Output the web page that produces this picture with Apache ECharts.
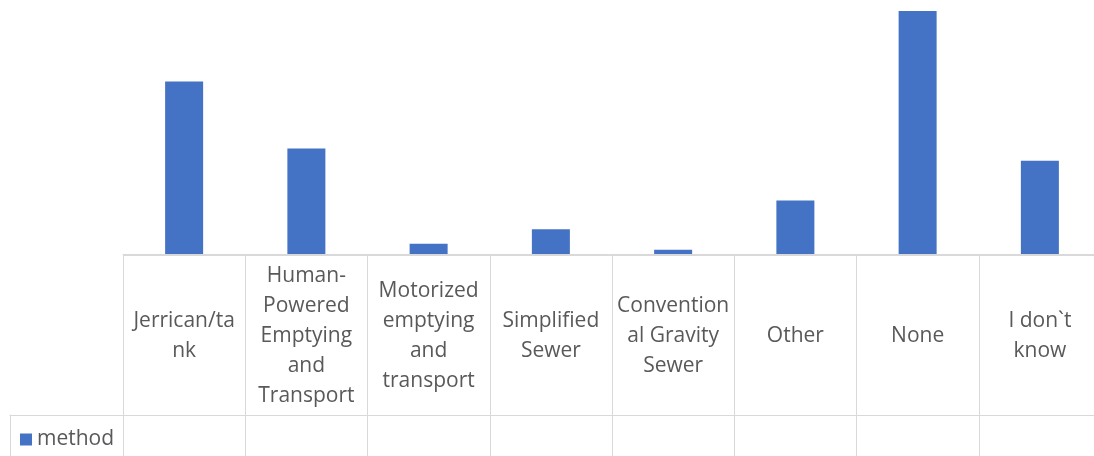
<!DOCTYPE html>
<html>
<head>
<meta charset="utf-8">
<script src="https://cdn.jsdelivr.net/npm/echarts@6/dist/echarts.min.js"></script>
<style>
  html, body { margin: 0; padding: 0; background: #ffffff; }
  #chart { width: 1094px; height: 456px; }
</style>
</head>
<body>
<div id="chart"></div>
<script>
// Sanitation / emptying method responses
const categories = [
  'Jerrican/tank',
  'Human-Powered Emptying and Transport',
  'Motorized emptying and transport',
  'Simplified Sewer',
  'Conventional Gravity Sewer',
  'Other',
  'None',
  'I don`t know'
];
// Wrapped text shown in the data-table header cells
const tickLabels = [
  'Jerrican/ta\nnk',
  'Human-\nPowered\nEmptying\nand\nTransport',
  'Motorized\nemptying\nand\ntransport',
  'Simplified\nSewer',
  'Convention\nal Gravity\nSewer',
  'Other',
  'None',
  'I don`t\nknow'
];
const seriesName = 'method';
const methodValues = [35.5, 21.7, 2.1, 5.1, 0.9, 11, 50, 19.2];

const FONT = '"Open Sans", "Noto Sans", sans-serif';
const TEXT = '#595959';
const BORDER = '#d9d9d9';

const chart = echarts.init(document.getElementById('chart'), null, { renderer: 'canvas' });

chart.setOption({
  animation: false,
  backgroundColor: '#ffffff',
  textStyle: { fontFamily: FONT },
  legend: {
    data: [seriesName],
    left: 15,
    top: 424,
    icon: 'rect',
    itemWidth: 12,
    itemHeight: 12,
    textStyle: { fontSize: 21, color: TEXT, fontFamily: FONT }
  },
  grid: [
    // plot area
    { left: 123, right: -7, top: 11, height: 243, outerBoundsMode: 'none' },
    // data table body (category columns)
    { left: 123, right: -7, top: 255, bottom: -20, outerBoundsMode: 'none' },
    // legend cell of the data table
    { left: 10, width: 113, top: 415, bottom: -20, outerBoundsMode: 'none' }
  ],
  xAxis: [
    {
      gridIndex: 0,
      type: 'category',
      data: categories,
      axisLine: { show: true, lineStyle: { color: BORDER, width: 1 } },
      axisTick: { show: false },
      splitLine: { show: false },
      axisLabel: {
        interval: 0,
        formatter: (v, i) => tickLabels[i],
        margin: 82,
        verticalAlign: 'middle',
        align: 'center',
        lineHeight: 30,
        fontSize: 21,
        color: TEXT,
        fontFamily: FONT
      }
    },
    {
      gridIndex: 1,
      type: 'category',
      data: categories,
      boundaryGap: true,
      axisLine: { show: false },
      axisTick: { show: false },
      axisLabel: { show: false },
      splitLine: { show: true, interval: 0, lineStyle: { color: BORDER, width: 1 } }
    },
    {
      gridIndex: 2,
      type: 'value',
      min: 0,
      max: 1,
      position: 'top',
      axisLine: { show: true, onZero: false, lineStyle: { color: BORDER, width: 1 } },
      axisTick: { show: false },
      axisLabel: { show: false },
      splitLine: { show: false }
    }
  ],
  yAxis: [
    {
      gridIndex: 0,
      type: 'value',
      min: 0,
      max: 50,
      show: false
    },
    {
      gridIndex: 1,
      type: 'value',
      inverse: true,
      min: 0,
      max: 221,
      interval: 160,
      axisLine: { show: false },
      axisTick: { show: false },
      axisLabel: { show: false },
      splitLine: { show: true, lineStyle: { color: BORDER, width: 1 } }
    },
    {
      gridIndex: 2,
      type: 'value',
      min: 0,
      max: 1,
      axisLine: { show: true, onZero: false, lineStyle: { color: BORDER, width: 1 } },
      axisTick: { show: false },
      axisLabel: { show: false },
      splitLine: { show: false }
    }
  ],
  series: [
    {
      name: seriesName,
      type: 'bar',
      xAxisIndex: 0,
      yAxisIndex: 0,
      barWidth: 38,
      itemStyle: { color: '#4472c4' },
      data: methodValues,
      silent: true
    }
  ]
});
</script>
</body>
</html>
